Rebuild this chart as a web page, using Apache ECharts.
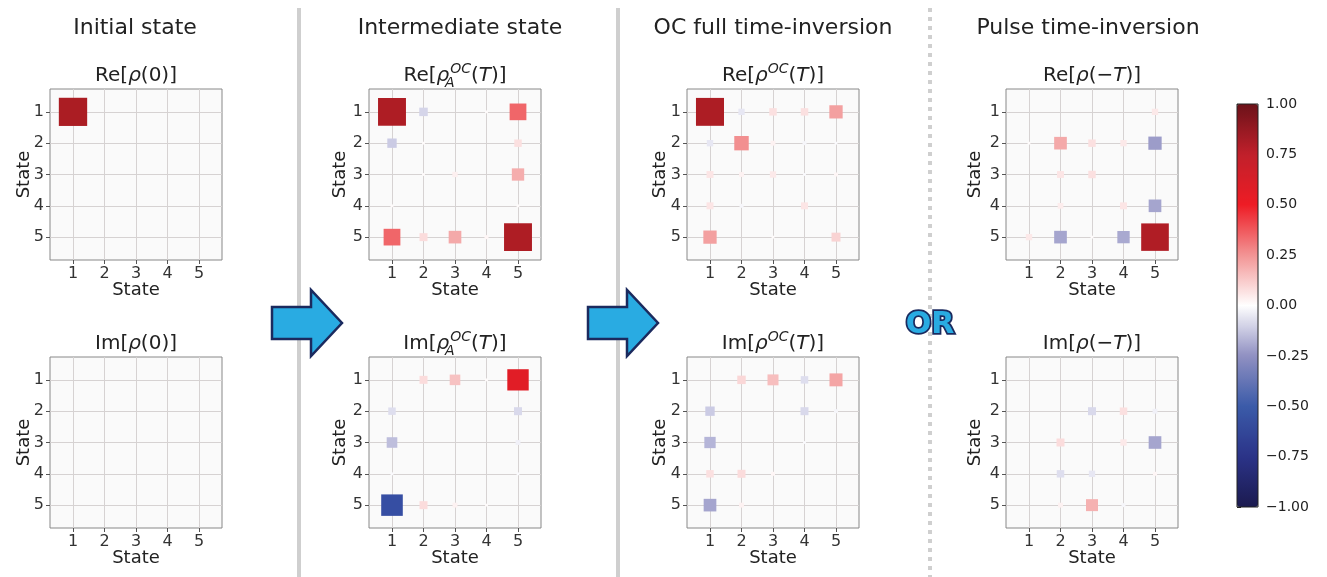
<!DOCTYPE html>
<html>
<head>
<meta charset="utf-8">
<style>
  html, body { margin: 0; padding: 0; background: #fff; }
  #main { width: 1327px; height: 577px; }
</style>
<script src="https://cdn.jsdelivr.net/npm/echarts@6/dist/echarts.min.js"></script>
</head>
<body>
<div id="main"></div>
<script>
// matrix elements, row i = state i, column j = state j
var reInit = [
  [1, 0, 0, 0, 0],
  [0, 0, 0, 0, 0],
  [0, 0, 0, 0, 0],
  [0, 0, 0, 0, 0],
  [0, 0, 0, 0, 0]
];
var imInit = [
  [0, 0, 0, 0, 0],
  [0, 0, 0, 0, 0],
  [0, 0, 0, 0, 0],
  [0, 0, 0, 0, 0],
  [0, 0, 0, 0, 0]
];
var reInter = [
  [0.97, -0.09, 0, 0.01, 0.35],
  [-0.11, 0.01, 0, 0, 0.07],
  [0, 0.01, 0.035, 0, 0.19],
  [0.01, 0, 0, 0, 0.01],
  [0.35, 0.08, 0.2, 0.02, 0.97]
];
var imInter = [
  [0, 0.08, 0.14, 0.01, 0.57],
  [-0.07, 0, 0, 0, -0.08],
  [-0.14, 0, 0, 0, -0.03],
  [-0.01, 0, 0, 0, -0.01],
  [-0.58, 0.08, 0.03, 0.01, 0]
];
var reOC = [
  [0.98, -0.05, 0.07, 0.07, 0.22],
  [-0.05, 0.26, 0.03, -0.02, -0.01],
  [0.06, 0.03, 0.05, -0.01, 0.02],
  [0.06, -0.02, 0, 0.06, 0],
  [0.22, 0, 0.01, 0, 0.1]
];
var imOC = [
  [0, 0.09, 0.15, -0.07, 0.21],
  [-0.11, 0, 0, -0.08, -0.02],
  [-0.16, 0, 0, -0.01, 0],
  [0.07, 0.08, 0.02, 0, 0],
  [-0.2, 0.03, 0, 0, 0]
];
var rePulse = [
  [0, 0, 0, 0, 0.05],
  [0.01, 0.2, 0.07, 0.05, -0.22],
  [0, 0.06, 0.07, 0, 0],
  [0, 0.04, 0, 0.06, -0.2],
  [0.05, -0.2, 0.01, -0.19, 0.95]
];
var imPulse = [
  [0, 0, 0, 0, 0],
  [0, 0, -0.08, 0.07, -0.03],
  [0, 0.08, 0, 0.05, -0.2],
  [0, -0.07, -0.05, 0, 0.02],
  [0, 0.03, 0.18, -0.02, 0]
];

var states = [1, 2, 3, 4, 5];
var headers = ['Initial state', 'Intermediate state', 'OC full time-inversion', 'Pulse time-inversion'];
var panelTitles = [
  'Re[{i|ρ}(0)]', 'Im[{i|ρ}(0)]',
  'Re[{i|ρ}{sub|A}{sup|OC}({i|T})]', 'Im[{i|ρ}{sub|A}{sup|OC}({i|T})]',
  'Re[{i|ρ}{sup|OC}({i|T})]', 'Im[{i|ρ}{sup|OC}({i|T})]',
  'Re[{i|ρ}(−{i|T})]', 'Im[{i|ρ}(−{i|T})]'
];
var matrices = [reInit, imInit, reInter, imInter, reOC, imOC, rePulse, imPulse];

var FONT = 'DejaVu Sans';
var colLeft = [50, 369, 687, 1006];
var rowTop = [89, 357];
var yNameGap = [17, 20, 18, 22];
var boxW = 172, boxH = 171;

// colorbar stops (-1 .. 1, evenly spaced)
var barColors = ['#1b1a4f', '#2b3388', '#3b5ba9', '#9090c2', '#ffffff', '#f29494', '#ee1c25', '#c0202b', '#6b1219'];
// square fills, stops every 0.125 from -1 to 1
var squareColors = [
  '#1b1a4f', '#23276c', '#2b3388', '#3347a0', '#3b5ba9', '#6670b4', '#9090c2', '#c4c4e0', '#ffffff',
  '#f8c8c8', '#f29494', '#f05a5e', '#ec1c24', '#d81e27', '#c41f2a', '#b81e27', '#ab1d23'
];

function toPoints(m) {
  var out = [];
  m.forEach(function (row, i) {
    row.forEach(function (v, j) {
      if (v !== 0) out.push([states[j], states[i], v]);
    });
  });
  return out;
}

// square area proportional to |value|
function renderSquare(params, api) {
  var v = api.value(2);
  var p = api.coord([api.value(0), api.value(1)]);
  var unit = api.size([1, 1]);
  var side = 0.9 * Math.sqrt(Math.abs(v));
  var w = side * unit[0], h = side * unit[1];
  return {
    type: 'rect',
    shape: { x: p[0] - w / 2, y: p[1] - h / 2, width: w, height: h },
    style: { fill: api.visual('color') }
  };
}

var myChart = echarts.init(document.getElementById('main'));

var grids = [], xAxes = [], yAxes = [], series = [], graphics = [];
var axisLabelStyle = { fontSize: 16, color: '#333', fontFamily: FONT };
var nameStyle = { fontSize: 18, color: '#222', fontFamily: FONT };

for (var k = 0; k < 8; k++) {
  var col = Math.floor(k / 2), row = k % 2;
  grids.push({
    left: colLeft[col], top: rowTop[row], width: boxW, height: boxH,
    show: true, backgroundColor: '#fafafa', borderColor: '#888', borderWidth: 1
  });
  xAxes.push({
    gridIndex: k, type: 'value', min: 0.27, max: 5.73, splitNumber: 5,
    name: 'State', nameLocation: 'middle', nameGap: 21, nameMoveOverlap: false, nameTextStyle: nameStyle,
    axisLine: { show: false },
    axisTick: { show: true, length: 4, customValues: states, lineStyle: { color: '#555' } },
    axisLabel: Object.assign({ margin: 6, customValues: states }, axisLabelStyle),
    splitLine: { show: true, lineStyle: { color: '#d6d2d2', width: 1 } }
  });
  yAxes.push({
    gridIndex: k, type: 'value', inverse: true, min: 0.27, max: 5.73, splitNumber: 5,
    name: 'State', nameLocation: 'middle', nameGap: yNameGap[col], nameMoveOverlap: false, nameTextStyle: nameStyle,
    axisLine: { show: false },
    axisTick: { show: true, length: 4, customValues: states, lineStyle: { color: '#555' } },
    axisLabel: Object.assign({ margin: 6, customValues: states }, axisLabelStyle),
    splitLine: { show: true, lineStyle: { color: '#d6d2d2', width: 1 } }
  });
  series.push({
    type: 'custom',
    xAxisIndex: k, yAxisIndex: k,
    dimensions: ['col', 'row', 'value'],
    encode: { x: 0, y: 1 },
    renderItem: renderSquare,
    data: toPoints(matrices[k])
  });
  graphics.push({
    type: 'text', x: colLeft[col] + boxW / 2, y: rowTop[row] - 13,
    style: {
      text: panelTitles[k], align: 'center', verticalAlign: 'middle',
      fontSize: 20, fontFamily: FONT, fill: '#222',
      rich: {
        i: { fontSize: 20, fontFamily: FONT, fontStyle: 'italic', fill: '#222' },
        sup: { fontSize: 14, fontFamily: FONT, fontStyle: 'italic', fill: '#222', padding: [0, 0, 14, 0] },
        sub: { fontSize: 14, fontFamily: FONT, fontStyle: 'italic', fill: '#222', padding: [14, 0, 0, 0], width: 1 }
      }
    }
  });
}

// colorbar axis
grids.push({ left: 1237, top: 104, width: 21, height: 403, show: true, borderColor: '#222', borderWidth: 1, z: 10 });
xAxes.push({ gridIndex: 8, type: 'value', min: 0, max: 1, show: false });
yAxes.push({
  gridIndex: 8, type: 'value', position: 'right', min: -1, max: 1, interval: 0.25,
  axisLine: { show: false },
  axisTick: { show: true, length: 4, lineStyle: { color: '#222' } },
  axisLabel: {
    margin: 8, fontSize: 14, color: '#222', fontFamily: FONT,
    formatter: function (v) { return v.toFixed(2).replace('-', '\u2212'); }
  },
  splitLine: { show: false }
});
series.push({ type: 'custom', xAxisIndex: 8, yAxisIndex: 8, renderItem: function () { return null; }, data: [] });

// column headers
var headerX = [135, 460, 773, 1088];
headers.forEach(function (h, i) {
  graphics.push({
    type: 'text', x: headerX[i], y: 28,
    style: { text: h, align: 'center', verticalAlign: 'middle', fontSize: 22, fontFamily: FONT, fill: '#222' }
  });
});

// separators
graphics.push({ type: 'line', shape: { x1: 299, y1: 8, x2: 299, y2: 577 }, style: { stroke: '#cfcfcf', lineWidth: 4 } });
graphics.push({ type: 'line', shape: { x1: 618, y1: 8, x2: 618, y2: 577 }, style: { stroke: '#cfcfcf', lineWidth: 4 } });
graphics.push({ type: 'line', shape: { x1: 930, y1: 8, x2: 930, y2: 577 }, style: { stroke: '#cfcfcf', lineWidth: 4, lineDash: [4, 5] } });

// arrows
[0, 316].forEach(function (dx) {
  graphics.push({
    type: 'polygon',
    shape: { points: [[272 + dx, 307], [311 + dx, 307], [311 + dx, 290], [342 + dx, 323], [311 + dx, 356], [311 + dx, 339], [272 + dx, 339]] },
    style: { fill: '#29abe2', stroke: '#1b2a5e', lineWidth: 2.5 }
  });
});

graphics.push({
  type: 'text', x: 930, y: 325, z: 100,
  style: { text: 'OR', align: 'center', verticalAlign: 'middle', fontSize: 30, fontWeight: 'bold', fontFamily: FONT, fill: '#29abe2', stroke: '#1b2a5e', lineWidth: 3.5 }
});

var option = {
  animation: false,
  backgroundColor: '#ffffff',
  grid: grids,
  xAxis: xAxes,
  yAxis: yAxes,
  visualMap: [
    {
      type: 'continuous', show: false, seriesIndex: [0, 1, 2, 3, 4, 5, 6, 7], dimension: 2,
      min: -1, max: 1, inRange: { color: squareColors }
    },
    {
      type: 'continuous', show: true, seriesIndex: 8, min: -1, max: 1,
      left: 1237, top: 104, itemWidth: 21, itemHeight: 403, padding: 0,
      calculable: false, hoverLink: false, inRange: { color: barColors }
    }
  ],
  graphic: graphics,
  series: series
};

myChart.setOption(option);
</script>
</body>
</html>
